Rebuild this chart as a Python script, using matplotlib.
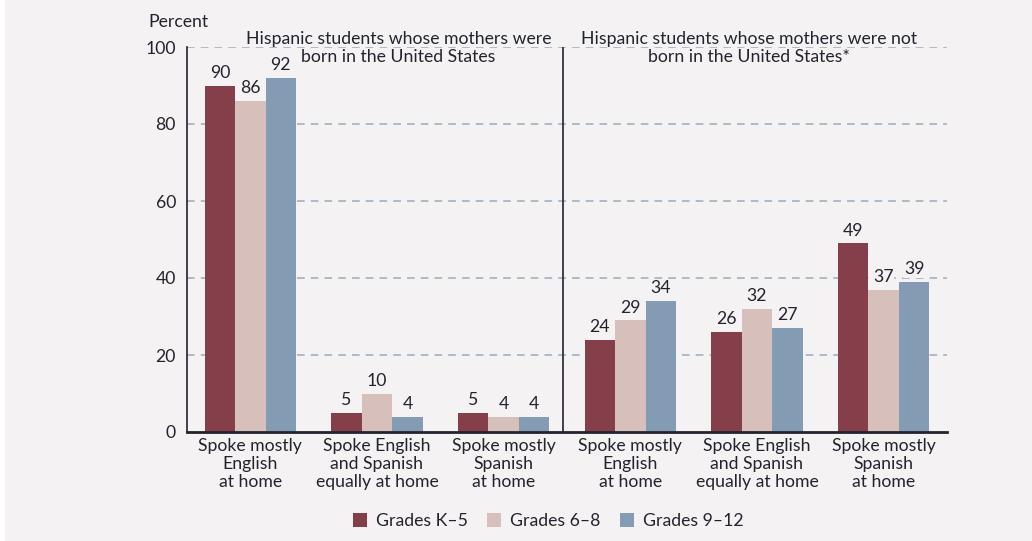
import numpy as np
import matplotlib.pyplot as plt
from matplotlib.patches import Patch, Rectangle

categories = [
    "Spoke mostly\nEnglish\nat home",
    "Spoke English\nand Spanish\nequally at home",
    "Spoke mostly\nSpanish\nat home",
    "Spoke mostly\nEnglish\nat home",
    "Spoke English\nand Spanish\nequally at home",
    "Spoke mostly\nSpanish\nat home",
]
series = ["Grades K\u20135", "Grades 6\u20138", "Grades 9\u201312"]
k5 = [90, 5, 5, 24, 26, 49]
g68 = [86, 10, 4, 29, 32, 37]
g912 = [92, 4, 4, 34, 27, 39]
panel_titles = [
    ["Hispanic students whose mothers were", "born in the United States"],
    ["Hispanic students whose mothers were not", "born in the United States*"],
]
yticks = [0, 20, 40, 60, 80, 100]

colors = ["#843f4a", "#d7c0bb", "#849cb3"]
bg = "#f5f2f3"
ink = "#23232f"
grid_c = "#9aabbb"
fs = 12.7

plt.rcParams['font.family'] = ['Lato', 'DejaVu Sans']

fig = plt.figure(figsize=(10.32, 5.41), dpi=100, facecolor="white")
fig.patches.append(Rectangle((5 / 1032, 0), 1, 1, transform=fig.transFigure,
                             facecolor=bg, edgecolor="none", zorder=-10))

ax = fig.add_axes([187 / 1032, 1 - 432 / 541, (947 - 187) / 1032, (432 - 47) / 541])
ax.set_facecolor(bg)

x = np.arange(len(categories))
w = 0.24
for i, (vals, c) in enumerate(zip([k5, g68, g912], colors)):
    bars = ax.bar(x + (i - 1) * w, vals, w, color=c, zorder=3, label=series[i])
    for b, v in zip(bars, vals):
        ax.text(b.get_x() + b.get_width() / 2, v + 1.2, str(v), ha="center", va="bottom",
                fontsize=fs, color=ink, zorder=7,
                bbox=dict(facecolor=bg, edgecolor="none", pad=0.2))

ax.set_xlim(-0.5, 5.5)
ax.set_ylim(0, 100)
for t in yticks[1:]:
    ax.axhline(t, color=grid_c, lw=1.1, ls=(0, (5, 4)), zorder=1)

ax.axvline(2.47, color=ink, lw=1.2, zorder=4)

for s in ["top", "right"]:
    ax.spines[s].set_visible(False)
ax.spines["left"].set_color(ink)
ax.spines["left"].set_linewidth(1.2)
ax.spines["bottom"].set_color(ink)
ax.spines["bottom"].set_linewidth(2)
ax.spines["bottom"].set_zorder(6)

ax.set_yticks(yticks)
ax.tick_params(axis="y", length=0, pad=8, labelsize=fs, labelcolor=ink)
ax.set_xticks(x)
ax.set_xticklabels(categories, fontsize=fs, color=ink, linespacing=1.18)
ax.tick_params(axis="x", length=0, pad=4)

ax.text(-0.5 - 39 / 126.6, 104.5, "Percent", ha="left", va="bottom", fontsize=fs, color=ink)

for xc, lines in zip([1.17, 3.94], panel_titles):
    for yy, line in zip([102.2, 97.3], lines):
        ax.text(xc, yy, line, ha="center", va="center", fontsize=fs, color=ink,
                zorder=5, bbox=dict(facecolor=bg, edgecolor="none", pad=0.2))

handles = [Patch(facecolor=c, edgecolor="none") for c in colors]
fig.legend(handles, series, loc="center", bbox_to_anchor=(548 / 1032, 1 - 521 / 541),
           ncol=3, frameon=False, fontsize=fs, handlelength=0.8, handleheight=0.8,
           handletextpad=0.5, columnspacing=1.1, labelcolor=ink)

fig.savefig("out.png", dpi=100, facecolor=fig.get_facecolor())
